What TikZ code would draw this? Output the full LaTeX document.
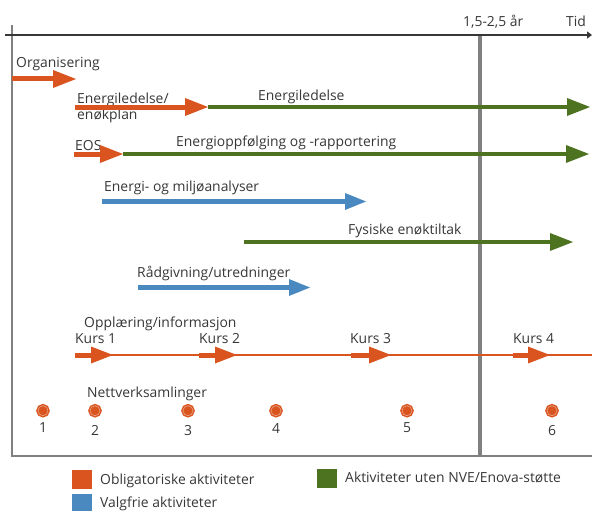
\documentclass[tikz,border=0pt]{standalone}
\usepackage{fontspec}
\setmainfont{Open Sans}
\usetikzlibrary{arrows.meta, positioning}
\definecolor{oblorange}{RGB}{217,84,30}
\definecolor{valgblue}{RGB}{74,137,192}
\definecolor{utengreen}{RGB}{78,115,32}
\definecolor{linegray}{RGB}{128,128,130}
\definecolor{txtgray}{RGB}{55,55,55}
\tikzset{
    % Labels
    lbl/.style={font=\fontsize{13.9}{15}\selectfont, text=txtgray, inner sep=0pt, anchor=base west},
    numlbl/.style={font=\fontsize{13.9}{15}\selectfont, text=txtgray, inner sep=0pt, anchor=base},
    % Activity bars
    obar/.style={-{Triangle[length=23pt, width=18pt, line width=0pt]}, line width=5pt, oblorange},
    gbar/.style={-{Triangle[length=23pt, width=18pt, line width=0pt]}, line width=4.5pt, utengreen},
    bbar/.style={-{Triangle[length=21pt, width=17pt, line width=0pt]}, line width=5pt, valgblue},
    kbar/.style={-{Triangle[length=22pt, width=17pt, line width=0pt]}, line width=5pt, oblorange},
    kursline/.style={line width=2pt, oblorange},
    % Frame
    axisline/.style={-{Triangle[length=5pt, width=7pt]}, line width=1.3pt, txtgray},
    frameline/.style={line width=1.5pt, linegray},
    markline/.style={line width=3.3pt, linegray},
    % Network meetings
    samling/.style={circle, draw=oblorange, fill=oblorange, double=oblorange!45!white,
                  line width=1.5pt, double distance=0.5pt, inner sep=0pt, minimum size=10pt},
    % Legend
    legbox/.style={rectangle, fill=#1, minimum width=20pt, minimum height=19pt,
                  inner sep=0pt, anchor=north west},
}
\begin{document}
\begin{tikzpicture}[x=1pt, y=-1pt]
\useasboundingbox (0,0) rectangle (592,511);

% frame and time axis
\coordinate (frtop) at (12,25);
\coordinate (frbl)  at (12,456);
\coordinate (frbr)  at (592,456);
\coordinate (marktop) at (480,35);
\coordinate (markbot) at (480,457);
\coordinate (axl) at (5,35);
\coordinate (axr) at (592,35);
\draw[frameline] (frtop) -- (frbl) -- (frbr);
\draw[markline] (marktop) -- (markbot);
\draw[axisline] (axl) -- (axr);
\node[lbl] (periode) at (463,27) {1,5-2,5 år};
\node[lbl] (tid)     at (566,27) {Tid};

% organisering
\node[lbl] (org) at (16,68) {Organisering};
\coordinate (orgs) at (12,79);
\coordinate (orge) at (76,79);
\draw[obar] (orgs) -- (orge);

% energiledelse
\node[lbl] (eled1) at (77,103) {Energiledelse/};
\node[lbl] (eled2) at (77,120) {enøkplan};
\node[lbl] (eled3) at (258,100) {Energiledelse};
\coordinate (eleds) at (75,107);
\coordinate (eledm) at (208,107);
\coordinate (elede) at (590,107);
\draw[gbar] (eledm) -- (elede);
\draw[obar] (eleds) -- (eledm);

% EOS
\node[lbl] (eos)  at (75,150) {EOS};
\node[lbl] (eosr) at (176,146) {Energioppfølging og -rapportering};
\coordinate (eoss) at (74,154);
\coordinate (eosm) at (123,154);
\coordinate (eose) at (589,154);
\draw[gbar] (eosm) -- (eose);
\draw[obar] (eoss) -- (eosm);

% analyser
\node[lbl] (ema) at (104,191) {Energi- og miljøanalyser};
\coordinate (emas) at (102,201.5);
\coordinate (emae) at (366,201.5);
\draw[bbar] (emas) -- (emae);

% tiltak
\node[lbl] (fys) at (348,234.5) {Fysiske enøktiltak};
\coordinate (fyss) at (244,242);
\coordinate (fyse) at (573,242);
\draw[gbar] (fyss) -- (fyse);

% raadgivning
\node[lbl] (rad) at (137,277) {Rådgivning/utredninger};
\coordinate (rads) at (138,287.5);
\coordinate (rade) at (310,287.5);
\draw[bbar] (rads) -- (rade);

% opplaering
\node[lbl] (oppl)  at (84,327) {Opplæring/informasjon};
\node[lbl] (kurs1) at (75,343) {Kurs 1};
\node[lbl] (kurs2) at (199,343) {Kurs 2};
\node[lbl] (kurs3) at (350,343) {Kurs 3};
\node[lbl] (kurs4) at (513,343) {Kurs 4};
\coordinate (kurss) at (75,355);
\coordinate (kurse) at (592,355);
\draw[kursline] (kurss) -- (kurse);
\coordinate (k1s) at (75,355);  \coordinate (k1e) at (113,355);
\coordinate (k2s) at (199,355); \coordinate (k2e) at (237,355);
\coordinate (k3s) at (351,355); \coordinate (k3e) at (391,355);
\coordinate (k4s) at (513,355); \coordinate (k4e) at (550,355);
\draw[kbar] (k1s) -- (k1e);
\draw[kbar] (k2s) -- (k2e);
\draw[kbar] (k3s) -- (k3e);
\draw[kbar] (k4s) -- (k4e);

% nettverksamlinger
\node[lbl] (nett) at (87,397) {Nettverksamlinger};
\node[samling] (s1) at (43,410.7)  {};
\node[samling] (s2) at (95,410.7)  {};
\node[samling] (s3) at (188,410.7) {};
\node[samling] (s4) at (276,410.7) {};
\node[samling] (s5) at (407,410.7) {};
\node[samling] (s6) at (552,410.7) {};
\node[numlbl] (n1) at (43,432)  {1};
\node[numlbl] (n2) at (95,435)  {2};
\node[numlbl] (n3) at (188,435) {3};
\node[numlbl] (n4) at (276,433) {4};
\node[numlbl] (n5) at (407,432) {5};
\node[numlbl] (n6) at (552,435) {6};

% legend
\node[legbox=oblorange] (legobl) at (72,470) {};
\node[legbox=valgblue]  (legval) at (72,494) {};
\node[legbox=utengreen] (legute) at (317,469) {};
\node[lbl] (txtobl) at (100,484) {Obligatoriske aktiviteter};
\node[lbl] (txtval) at (100,507) {Valgfrie aktiviteter};
\node[lbl] (txtute) at (345,482) {Aktiviteter uten NVE/Enova-støtte};
\end{tikzpicture}
\end{document}
